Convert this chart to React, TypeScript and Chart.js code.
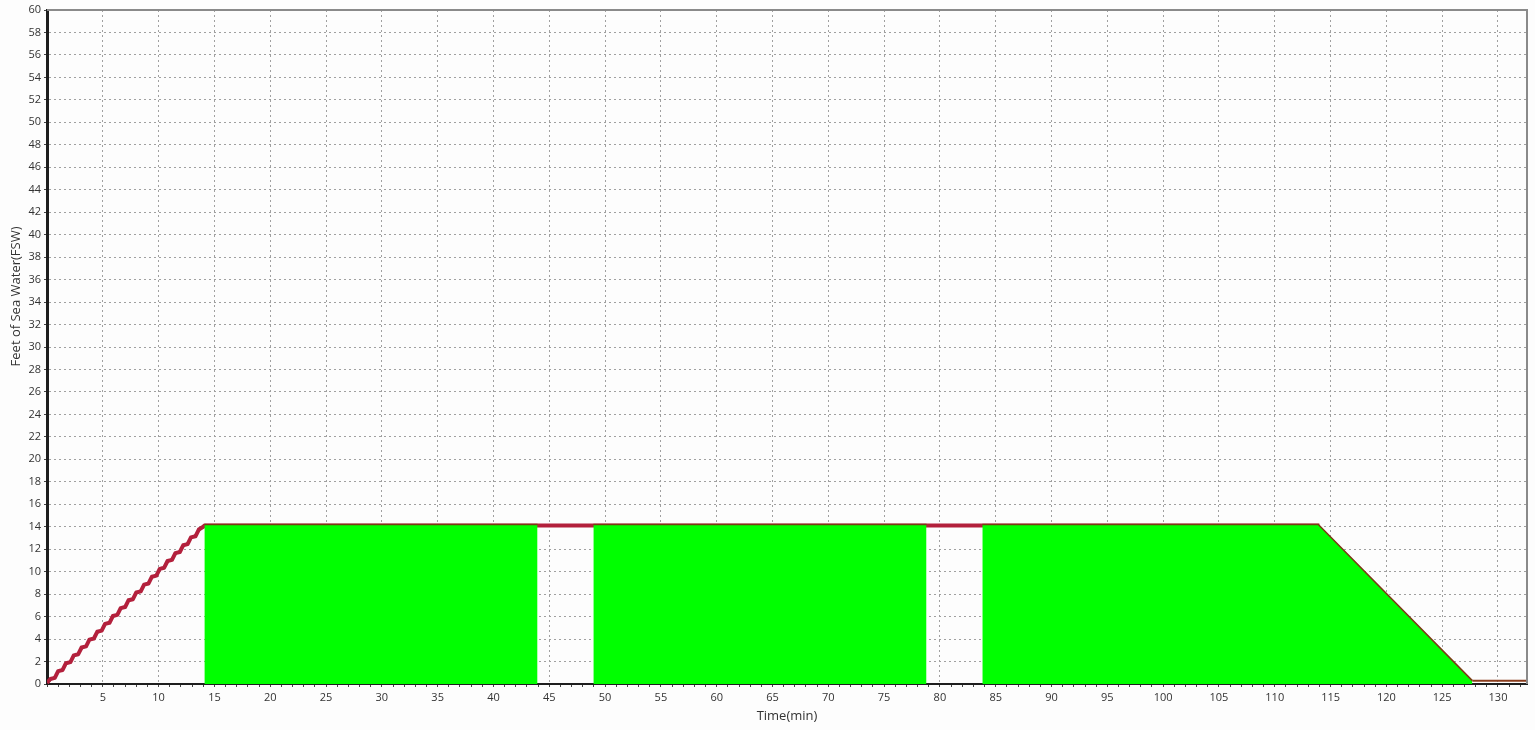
import { useEffect, useRef } from 'react';
import { Chart, registerables } from 'chart.js';

Chart.register(...registerables);

// descent from surface to 14 fsw, with the sensor jitter
const ascentTime = [0, 0.3, 0.7, 1.0, 1.4, 1.7, 2.1, 2.4, 2.8, 3.1, 3.5, 3.8, 4.2, 4.5, 4.9, 5.2, 5.6, 5.9, 6.3, 6.6, 7.0, 7.3, 7.7, 8.0, 8.4, 8.7, 9.1, 9.4, 9.8, 10.1, 10.5, 10.8, 11.2, 11.5, 11.9, 12.2, 12.6, 12.9, 13.3, 13.6, 14.0];
const ascentDepth = [0.1, 0.45, 0.55, 1.15, 1.25, 1.85, 1.95, 2.55, 2.65, 3.25, 3.35, 3.95, 4.05, 4.65, 4.75, 5.35, 5.45, 6.05, 6.15, 6.75, 6.85, 7.45, 7.55, 8.15, 8.25, 8.85, 8.95, 9.55, 9.65, 10.25, 10.35, 10.95, 11.05, 11.65, 11.75, 12.35, 12.45, 13.05, 13.15, 13.75, 14.0];

// planned straight descent
const planTime = [0, 14];
const planDepth = [0, 14];

// bottom time at depth
const bottomTime = [14.1, 114.0];
const bottomDepth = [14.1, 14.1];

// oxygen periods (green)
const o2Time1 = [14.1, 43.95];
const o2Depth1 = [14.2, 14.2];
const o2Time2 = [48.95, 78.8];
const o2Depth2 = [14.2, 14.2];
const o2Time3 = [83.8, 113.9, 127.7];
const o2Depth3 = [14.2, 14.2, 0.3];

// at surface
const surfaceTime = [127.7, 132.6];
const surfaceDepth = [0.3, 0.3];

const X_MAX = 132.6;
const Y_MAX = 60;
const FONT = '"Open Sans", "DejaVu Sans", sans-serif';

const pts = (xs: number[], ys: number[]) => xs.map((x, i) => ({ x, y: ys[i] }));

const frame = {
  id: 'frame',
  afterDatasetsDraw(chart: any) {
    const { ctx, chartArea } = chart;
    ctx.save();
    ctx.strokeStyle = '#8a8a8a';
    ctx.lineWidth = 2;
    ctx.beginPath();
    ctx.moveTo(chartArea.left, chartArea.top);
    ctx.lineTo(chartArea.right, chartArea.top);
    ctx.lineTo(chartArea.right, chartArea.bottom);
    ctx.stroke();
    // y-axis title, a bit above the middle like the original
    ctx.translate(16, chartArea.top + (chartArea.bottom - chartArea.top) * 0.425);
    ctx.rotate(-Math.PI / 2);
    ctx.fillStyle = '#333';
    ctx.font = `13px ${FONT}`;
    ctx.textAlign = 'center';
    ctx.textBaseline = 'middle';
    ctx.fillText('Feet of Sea Water(FSW)', 0, 0);
    ctx.restore();
  },
};

export default function App() {
  const canvasRef = useRef<HTMLCanvasElement>(null);
  const chartRef = useRef<Chart | null>(null);

  useEffect(() => {
    document.body.style.margin = '0';
    if (!canvasRef.current) return;
    const ctx = canvasRef.current.getContext('2d');
    if (!ctx) return;
    if (chartRef.current) chartRef.current.destroy();

    const green = {
      type: 'line' as const,
      fill: 'origin',
      backgroundColor: '#00ff00',
      borderColor: '#7a3a14',
      borderWidth: 1.5,
      pointRadius: 0,
      tension: 0,
      order: 1,
    };

    chartRef.current = new Chart(ctx, {
      type: 'line',
      data: {
        datasets: [
          { ...green, label: 'O2 1', data: pts(o2Time1, o2Depth1) },
          { ...green, label: 'O2 2', data: pts(o2Time2, o2Depth2) },
          { ...green, label: 'O2 3', data: pts(o2Time3, o2Depth3) },
          {
            label: 'Depth',
            data: pts(ascentTime.concat(bottomTime), ascentDepth.concat(bottomDepth)),
            borderColor: '#b3203c',
            borderWidth: 4,
            borderJoinStyle: 'round',
            pointRadius: 0,
            fill: false,
            tension: 0,
            order: 2,
          },
          {
            label: 'Plan',
            data: pts(planTime, planDepth),
            borderColor: '#1a1a1a',
            borderWidth: 1.2,
            pointRadius: 0,
            fill: false,
            order: 3,
          },
          {
            label: 'Surface',
            data: pts(surfaceTime, surfaceDepth),
            borderColor: '#8a3c1c',
            borderWidth: 2,
            pointRadius: 0,
            fill: false,
            order: 1,
          },
        ],
      },
      options: {
        responsive: true,
        maintainAspectRatio: false,
        animation: false,
        layout: { padding: { top: 10, right: 8, left: 0, bottom: 0 } },
        plugins: {
          legend: { display: false },
          tooltip: { enabled: false },
        },
        scales: {
          x: {
            type: 'linear',
            min: 0,
            max: X_MAX,
            ticks: {
              stepSize: 1,
              includeBounds: false,
              autoSkip: false,
              maxRotation: 0,
              color: '#333',
              font: { family: FONT, size: 11 },
              padding: 4,
              callback: (v: any) => (v % 5 === 0 && v !== 0 ? String(v) : ''),
            },
            grid: {
              color: (c: any) => (c.tick && c.tick.value % 5 === 0 && c.tick.value !== 0 ? '#a0a0a0' : 'rgba(0,0,0,0)'),
              tickColor: '#444',
              tickLength: 3,
              lineWidth: 1,
            },
            border: { color: '#1e1e1e', width: 2, dash: [2, 3] },
            title: {
              display: true,
              text: 'Time(min)',
              color: '#333',
              font: { family: FONT, size: 13 },
              padding: { top: 0, bottom: 6 },
            },
            afterFit: (s: any) => { s.height = 46; },
          },
          y: {
            min: 0,
            max: Y_MAX,
            ticks: {
              stepSize: 2,
              color: '#333',
              font: { family: FONT, size: 11 },
              padding: 3,
            },
            grid: {
              color: '#a0a0a0',
              tickColor: '#444',
              tickLength: 3,
              lineWidth: 1,
            },
            border: { color: '#1e1e1e', width: 3, dash: [2, 3] },
            afterFit: (s: any) => { s.width = 47; },
          },
        },
      },
      plugins: [frame],
    } as any);

    return () => {
      if (chartRef.current) chartRef.current.destroy();
      chartRef.current = null;
    };
  }, []);

  return (
    <div style={{ position: 'relative', width: 1535, height: 730, background: '#fdfdfd' }}>
      <canvas ref={canvasRef}></canvas>
    </div>
  );
}
